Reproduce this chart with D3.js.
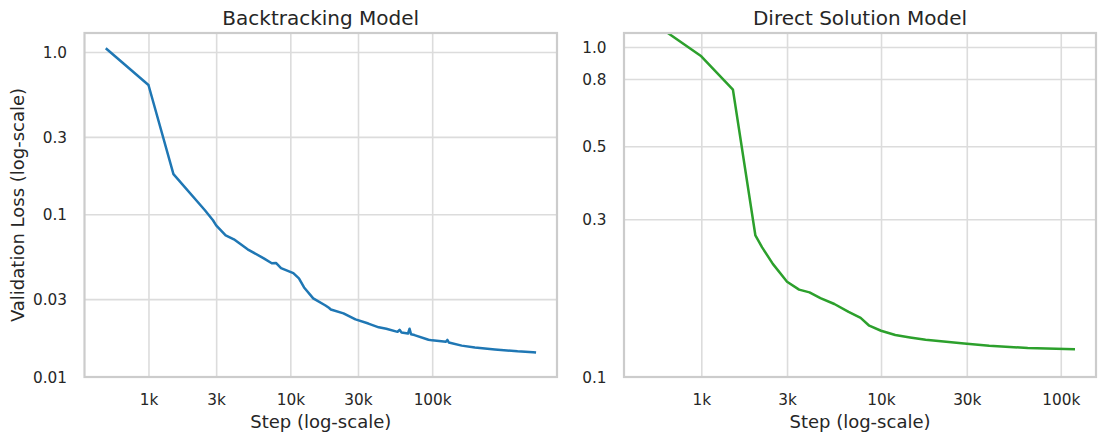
<!DOCTYPE html>
<html>
<head>
<meta charset="utf-8">
<script src="https://cdn.jsdelivr.net/npm/d3@7/dist/d3.min.js"></script>
<style>
  html, body { margin: 0; padding: 0; background: #ffffff; }
  svg { display: block; font-family: "DejaVu Sans", sans-serif; }
</style>
</head>
<body>
<svg id="chart" width="1105" height="441"></svg>
<script>
// ---------------- DATA ----------------
const btSteps = [500, 1000, 1500, 2500, 2850, 3000, 3500, 4000, 5000, 6500, 7400, 7950, 8600, 10500, 11500, 12500, 14500, 17700, 18700, 19300, 23700, 28800, 35500, 42000, 47500, 57000, 58900, 60800, 67500, 69300, 71000, 75000, 94200, 100000, 125000, 128000, 131000, 161500, 200000, 276700, 400000, 514000, 540000];
const btLoss  = [1.054, 0.626, 0.1766, 0.1059, 0.0918, 0.0855, 0.0742, 0.0701, 0.0608, 0.0535, 0.0499, 0.0500, 0.0466, 0.0434, 0.0403, 0.0354, 0.0303, 0.0274, 0.0265, 0.0259, 0.0245, 0.0225, 0.0212, 0.0201, 0.0197, 0.01885, 0.0194, 0.0187, 0.0184, 0.0197, 0.0182, 0.0180, 0.01686, 0.0167, 0.01635, 0.0168, 0.0162, 0.0155, 0.0151, 0.01468, 0.0143, 0.01412, 0.01406];

const dsSteps = [500, 1000, 1500, 2000, 2180, 2500, 3000, 3500, 4000, 4600, 5500, 6600, 7700, 8600, 10000, 12000, 14500, 17700, 29000, 40000, 65500, 120000];
const dsLoss  = [1.22, 0.937, 0.742, 0.268, 0.2466, 0.2197, 0.194, 0.1835, 0.180, 0.173, 0.166, 0.157, 0.1506, 0.1426, 0.1377, 0.1336, 0.1314, 0.1293, 0.126, 0.124, 0.122, 0.121];

const xTicks = [1000, 3000, 10000, 30000, 100000];
const xTickLabels = ["1k", "3k", "10k", "30k", "100k"];

const btYTicks = [1.0, 0.3, 0.1, 0.03, 0.01];
const btYTickLabels = ["1.0", "0.3", "0.1", "0.03", "0.01"];

const dsYTicks = [1.0, 0.8, 0.5, 0.3, 0.1];
const dsYTickLabels = ["1.0", "0.8", "0.5", "0.3", "0.1"];

const titles = ["Backtracking Model", "Direct Solution Model"];
const xLabel = "Step (log-scale)";
const yLabel = "Validation Loss (log-scale)";

// ---------------- DRAWING ----------------
const svg = d3.select("#chart");
const textColor = "#262626";
const gridColor = "#dcdcdc";
const frameColor = "#cccccc";

const panels = [
  {
    steps: btSteps, loss: btLoss, color: "#1f77b4",
    x0: 84.5, x1: 557, y0: 33, y1: 377,
    xDomain: [Math.pow(10, 2.549), Math.pow(10, 5.880)],
    yDomain: [0.01, 1.31],
    yTicks: btYTicks, yTickLabels: btYTickLabels,
    title: titles[0], showYLabel: true
  },
  {
    steps: dsSteps, loss: dsLoss, color: "#2ca02c",
    x0: 624, x1: 1096, y0: 33, y1: 377,
    xDomain: [Math.pow(10, 2.570), Math.pow(10, 5.196)],
    yDomain: [0.1, 1.103],
    yTicks: dsYTicks, yTickLabels: dsYTickLabels,
    title: titles[1], showYLabel: false
  }
];

panels.forEach((p, i) => {
  const x = d3.scaleLog().domain(p.xDomain).range([p.x0, p.x1]);
  const y = d3.scaleLog().domain(p.yDomain).range([p.y1 - 0.5, p.y0]);
  const g = svg.append("g");

  const clipId = "clip" + i;
  svg.append("clipPath").attr("id", clipId)
    .append("rect").attr("x", p.x0).attr("y", p.y0)
    .attr("width", p.x1 - p.x0).attr("height", p.y1 - p.y0);

  const xGrid = d3.axisBottom(x).tickValues(xTicks).tickSize(-(p.y1 - p.y0)).tickFormat("");
  g.append("g").attr("transform", `translate(0,${p.y1})`).call(xGrid)
    .call(s => s.select(".domain").remove())
    .call(s => s.selectAll("line").attr("stroke", gridColor).attr("stroke-width", 1.6));

  const yGrid = d3.axisLeft(y).tickValues(p.yTicks).tickSize(-(p.x1 - p.x0)).tickFormat("");
  g.append("g").attr("transform", `translate(${p.x0},0)`).call(yGrid)
    .call(s => s.select(".domain").remove())
    .call(s => s.selectAll("line").attr("stroke", gridColor).attr("stroke-width", 1.6));

  const xAx = d3.axisBottom(x).tickValues(xTicks).tickSize(0).tickPadding(0)
    .tickFormat((d, k) => xTickLabels[k]);
  g.append("g").attr("transform", `translate(0,${p.y1})`).call(xAx)
    .call(s => s.select(".domain").remove())
    .call(s => s.selectAll("text")
      .attr("y", 28).attr("dy", null)
      .attr("fill", textColor)
      .style("font-size", "15.3px")
      .style("font-family", "DejaVu Sans"));

  const yAx = d3.axisLeft(y).tickValues(p.yTicks).tickSize(0).tickPadding(0)
    .tickFormat((d, k) => p.yTickLabels[k]);
  g.append("g").attr("transform", `translate(${p.x0},0)`).call(yAx)
    .call(s => s.select(".domain").remove())
    .call(s => s.selectAll("text")
      .attr("x", -17.5).attr("dy", "0.36em")
      .attr("fill", textColor)
      .style("font-size", "15.3px")
      .style("font-family", "DejaVu Sans"));

  const pts = p.steps.map((s, k) => [s, p.loss[k]]);
  const line = d3.line().x(d => x(d[0])).y(d => y(d[1]));
  g.append("path").datum(pts)
    .attr("clip-path", `url(#${clipId})`)
    .attr("d", line)
    .attr("fill", "none")
    .attr("stroke", p.color)
    .attr("stroke-width", 2.5)
    .attr("stroke-linejoin", "round")
    .attr("stroke-linecap", "butt");

  g.append("rect")
    .attr("x", p.x0).attr("y", p.y0)
    .attr("width", p.x1 - p.x0).attr("height", p.y1 - p.y0)
    .attr("fill", "none").attr("stroke", frameColor).attr("stroke-width", 2.2);

  g.append("text")
    .attr("x", (p.x0 + p.x1) / 2).attr("y", 25)
    .attr("text-anchor", "middle")
    .attr("fill", textColor)
    .style("font-size", "20px")
    .text(p.title);

  g.append("text")
    .attr("x", (p.x0 + p.x1) / 2).attr("y", 427.5)
    .attr("text-anchor", "middle")
    .attr("fill", textColor)
    .style("font-size", "18px")
    .text(xLabel);

  if (p.showYLabel) {
    g.append("text")
      .attr("transform", `translate(24,${(p.y0 + p.y1) / 2}) rotate(-90)`)
      .attr("text-anchor", "middle")
      .attr("fill", textColor)
      .style("font-size", "18px")
      .text(yLabel);
  }
});
</script>
</body>
</html>
